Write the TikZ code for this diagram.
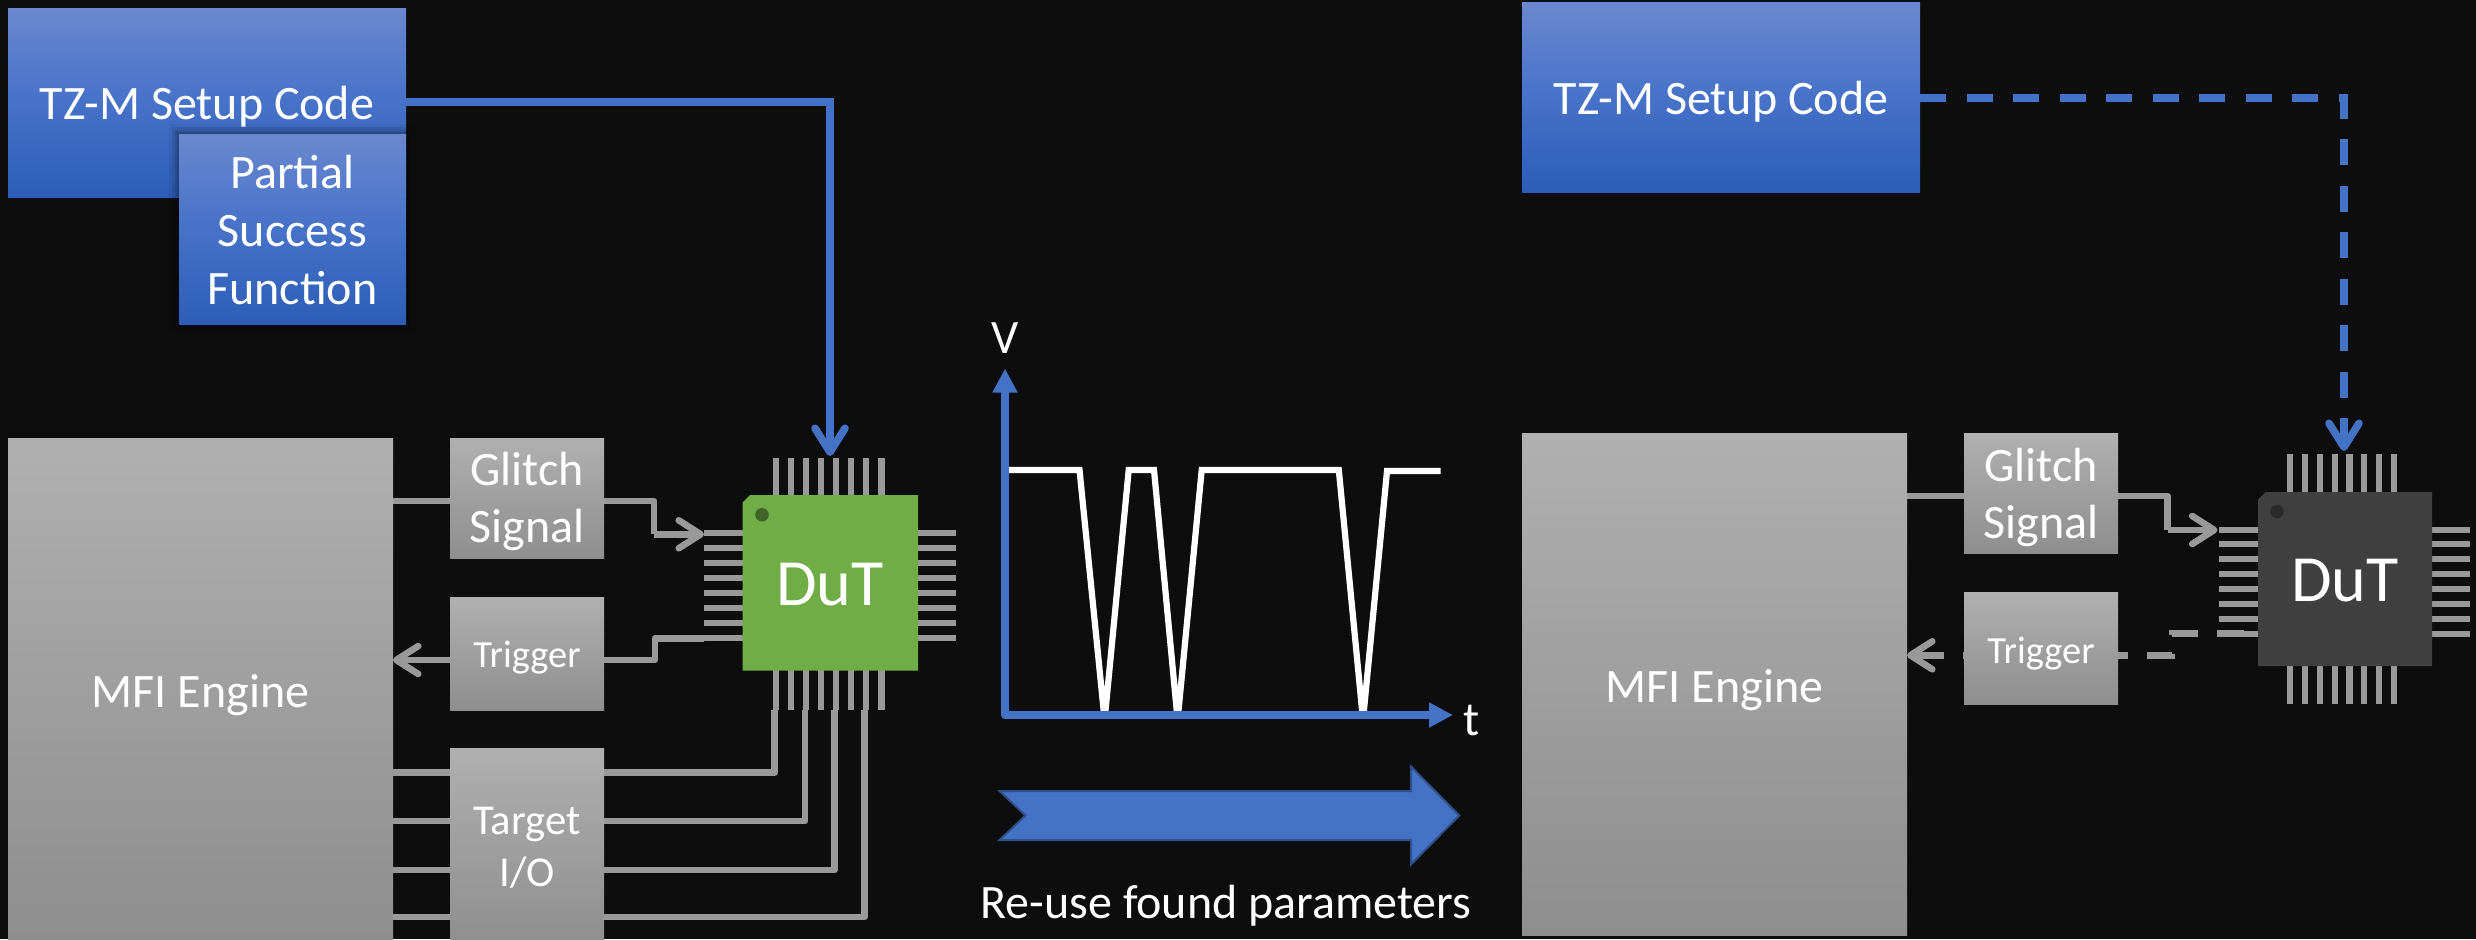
\documentclass[tikz,border=0pt]{standalone}
\usepackage{fontspec}
\setmainfont{Carlito}
\usetikzlibrary{arrows.meta}
\definecolor{bgc}{HTML}{0D0D0D}
\definecolor{wire}{HTML}{999999}
\definecolor{bluel}{HTML}{4472C4}
\definecolor{chipg}{HTML}{70AD47}
\definecolor{chipd}{HTML}{404040}
\definecolor{dotg}{HTML}{3F6527}
\definecolor{dotd}{HTML}{2A2A2A}
\definecolor{grayT}{HTML}{B0B0B0}
\definecolor{grayB}{HTML}{8E8E8E}
\definecolor{blueT}{HTML}{6A88D0}
\definecolor{blueM}{HTML}{4672C8}
\definecolor{blueB}{HTML}{2D5DB6}
\tikzset{
  x=0.5pt,y=-0.5pt,
  box/.style={rectangle,inner sep=0pt,outer sep=0pt},
  graybox/.style={box,top color=grayT,bottom color=grayB},
  bluebox/.style={box,top color=blueT,bottom color=blueB,middle color=blueM},
  wireline/.style={draw=wire,line width=3.3pt,line join=round},
  blueline/.style={draw=bluel,line width=3.8pt},
  barb/.style={-{Straight Barb[length=11pt,width=14pt,round,line width=3.3pt]}},
  bluebarb/.style={-{Straight Barb[length=12pt,width=15pt,round,line width=3.8pt]}},
  pin/.style={draw=wire,line width=3.1pt},
  lbl/.style={text=white,inner sep=0pt,align=center,font=\fontsize{24}{28.8}\selectfont},
  lblio/.style={lbl,font=\fontsize{21.3}{26}\selectfont},
  lbltr/.style={lbl,font=\fontsize{19.2}{22}\selectfont},
  lbldut/.style={lbl,font=\fontsize{33}{38}\selectfont},
}
\newcommand{\pinsH}[3]{\foreach \py in {#3}{\draw[pin] (#1,\py) -- (#2,\py);}}
\newcommand{\pinsV}[3]{\foreach \px in {#3}{\draw[pin] (\px,#1) -- (\px,#2);}}
\begin{document}
\begin{tikzpicture}
\fill[bgc] (0,0) rectangle (2476,939);
\useasboundingbox (0,0) rectangle (2476,939);

% pins, left chip
\pinsV{458}{495}{775.7,791,806,821,836,851,866,881.4}
\pinsV{670}{710}{775.7,791,806,821,836,851,866,881.4}
\pinsH{704}{743}{533,548,563,578,593,608,623,638.3}
\pinsH{918}{956.4}{533,548,563,578,593,608,623,638.3}
% pins, right chip
\pinsV{454}{492}{2290,2305,2320,2334.6,2349.4,2364,2379,2394}
\pinsV{666}{703.7}{2290,2305,2320,2334.6,2349.4,2364,2379,2394}
\pinsH{2219.4}{2258}{529.7,544.3,559.3,574.3,589,604,618.7,633.7}
\pinsH{2432}{2470}{529.7,544.3,559.3,574.3,589,604,618.7,633.7}

% connector ends
\coordinate (LglitchIn) at (704,534.3);
\coordinate (LtrigOut) at (704,638.3);
\coordinate (Lio1) at (774.6,710);
\coordinate (Lio2) at (805,710);
\coordinate (Lio3) at (834.6,710);
\coordinate (Lio4) at (864.6,710);
\coordinate (LcodeIn) at (830,456);
\coordinate (RglitchIn) at (2217.5,530);
\coordinate (RtrigOut) at (2244,633.7);
\coordinate (RcodeIn) at (2344,451);
\coordinate (LmfiE) at (393,688);
\coordinate (RmfiE) at (1907,688);

% wires left (behind boxes)
\draw[wireline] (LmfiE |- 0,501) -- (654,501) -- (654,534.3);
\draw[wireline,barb] (654,534.3) -- (LglitchIn);
\draw[wireline,barb] (LtrigOut) -- (655,638.3) -- (655,660) -- (LmfiE |- 0,660);
\draw[wireline] (LmfiE |- 0,772.7) -- (774.6,772.7) -- (Lio1);
\draw[wireline] (LmfiE |- 0,821) -- (805,821) -- (Lio2);
\draw[wireline] (LmfiE |- 0,870) -- (834.6,870) -- (Lio3);
\draw[wireline] (LmfiE |- 0,917) -- (864.6,917) -- (Lio4);
% wires right
\draw[wireline] (RmfiE |- 0,496) -- (2167.7,496) -- (2167.7,530);
\draw[wireline,barb] (2167.7,530) -- (RglitchIn);
\draw[wireline,barb,dash pattern=on 13.5pt off 9.5pt,line join=miter] (RtrigOut) -- (2172,633.7) -- (2172,655.3) -- (RmfiE |- 0,655.3);

% boxes left
\node[graybox,minimum width=192.5pt,minimum height=250.5pt,label={[lbl,yshift=-3pt]center:MFI Engine}] (LMFI) at (200.5,689) {};
\node[graybox,minimum width=77pt,minimum height=60pt,label={[lbl,yshift=-1.5pt]center:Glitch\\Signal}] (LGlitch) at (527,498.5) {};
\node[graybox,minimum width=77pt,minimum height=56.5pt,label={[lbltr,yshift=-2pt]center:Trigger}] (LTrigger) at (527,653.5) {};
\node[graybox,minimum width=77pt,minimum height=98pt,label={[lblio,yshift=-1pt]center:Target\\I/O}] (LIO) at (527,846) {};
% boxes right
\node[graybox,minimum width=192.5pt,minimum height=251pt,label={[lbl,yshift=-3pt]center:MFI Engine}] (RMFI) at (1714.5,684.5) {};
\node[graybox,minimum width=77pt,minimum height=60.3pt,label={[lbl,yshift=-2pt]center:Glitch\\Signal}] (RGlitch) at (2041,493.3) {};
\node[graybox,minimum width=77pt,minimum height=56.3pt,label={[lbltr,yshift=-2.5pt]center:Trigger}] (RTrigger) at (2041,648.3) {};

% blue boxes
\node[bluebox,minimum width=199pt,minimum height=94.5pt,label={[lbl,yshift=-2pt]center:TZ-M Setup Code}] (LTZ) at (207,102.5) {};
\foreach \s/\o in {10/.05,7/.08,4/.1,2/.12}{\fill[black,opacity=\o] (179-\s,134-\s) rectangle (406+\s,324+\s);}
\node[bluebox,minimum width=113.5pt,minimum height=95pt,label={[lbl,yshift=-.5pt]center:Partial\\Success\\Function}] (LPSF) at (292.5,229) {};
\node[bluebox,minimum width=199pt,minimum height=95pt,label={[lbl,yshift=-2pt]center:TZ-M Setup Code}] (RTZ) at (1721,97.5) {};

% blue connectors
\draw[blueline,bluebarb] (LTZ.east |- 0,102) -- (830,102) -- (LcodeIn);
\draw[blueline,bluebarb,dash pattern=on 13pt off 10.25pt] (RTZ.east |- 0,98) -- (2344,98) -- (RcodeIn);

% chips
\fill[chipg] (750,495) -- (918,495) -- (918,670.7) -- (742.5,670.7) -- (742.5,502.5) -- cycle;
\node[lbldut] (LDuT) at (830,585) {DuT};
\fill[dotg] (762,514.7) circle (6.8);
\fill[chipd] (2265.5,492) -- (2432,492) -- (2432,666) -- (2258,666) -- (2258,499.5) -- cycle;
\node[lbldut] (RDuT) at (2345,581) {DuT};
\fill[dotd] (2277,511.5) circle (6.8);

% plot
\node[lbl] (V) at (1005,338) {V};
\node[lbl] (T) at (1472,720) {t};
\coordinate (O) at (1005,715);
\coordinate (Vtip) at (1005,368.5);
\coordinate (Ttip) at (1453,715);
\begin{scope}
\clip (1000,440) rectangle (1460,714);
\draw[draw=white,line width=3.1pt,line join=miter] (1009,470) -- (1079.5,470) -- (1104.6,720) -- (1128.7,470) -- (1154,470) -- (1177.6,720) -- (1201.7,470) -- (1338.8,470) -- (1363,720) -- (1387,471) -- (1440.7,471);
\end{scope}
\draw[draw=bluel,line width=3.8pt,line join=round,{Triangle[length=12pt,width=11.8pt]}-{Triangle[length=12pt,width=11.8pt]}] (Vtip) -- (O) -- (Ttip);

% big arrow
\draw[fill=bluel,draw=bluel!70!black,line width=1pt,line join=miter] (999.6,791) -- (1411,791) -- (1411,766.6) -- (1459.3,815.5) -- (1411,864.4) -- (1411,840) -- (999.6,840) -- (1025.4,815.5) -- cycle;
\node[lbl] (Reuse) at (1226,906) {Re-use found parameters};
\end{tikzpicture}
\end{document}
